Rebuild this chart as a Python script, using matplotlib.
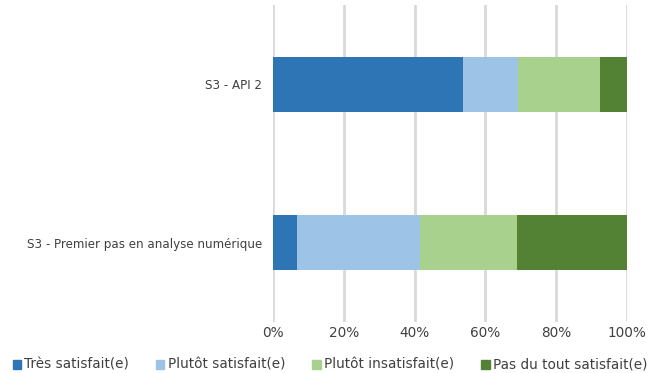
import matplotlib
matplotlib.use("Agg")
import matplotlib.pyplot as plt
from matplotlib.patches import Rectangle
from matplotlib.ticker import PercentFormatter

categories = ["S3 - API 2", "S3 - Premier pas en analyse numérique"]
series_names = ["Très satisfait(e)", "Plutôt satisfait(e)", "Plutôt insatisfait(e)", "Pas du tout satisfait(e)"]
tres = [53.8, 6.9]
plutot_sat = [15.4, 34.5]
plutot_insat = [23.1, 27.6]
pas_du_tout = [7.7, 31.0]
colors = ["#2e75b6", "#9dc3e6", "#a9d18e", "#548235"]
xticks = [0, 20, 40, 60, 80, 100]

plt.rcParams['font.family'] = ['DejaVu Sans']
fig = plt.figure(figsize=(6.54, 3.73), dpi=100)
ax = fig.add_axes([273/654, 1-322/373, 354/654, 317/373])

ypos = list(range(len(categories)))
left = [0]*len(categories)
for name, vals, c in zip(series_names, [tres, plutot_sat, plutot_insat, pas_du_tout], colors):
    ax.barh(ypos, vals, left=left, height=0.35, color=c, label=name, zorder=3)
    left = [l+v for l, v in zip(left, vals)]

ax.set_yticks(ypos)
ax.set_yticklabels(categories, fontsize=8.6)
ax.set_ylim(1.5, -0.5)
ax.set_xlim(0, 100)
ax.set_xticks(xticks)
ax.xaxis.set_major_formatter(PercentFormatter(decimals=0))
ax.tick_params(axis='x', labelsize=9.8, length=0, pad=3, colors='#404040')
ax.tick_params(axis='y', length=0, pad=8, colors='#404040')
ax.grid(axis='x', color='#d9d9d9', linewidth=2, zorder=0)
for s in ax.spines.values():
    s.set_visible(False)

handles = [Rectangle((0, 0), 1, 1, color=c) for c in colors]
fig.legend(handles, series_names, loc='center', bbox_to_anchor=(0.5 + 3/654, 1-365/373),
           ncol=4, frameon=False, fontsize=9.8, handlelength=0.6, handleheight=0.6,
           handletextpad=0.25, columnspacing=2.0, labelcolor='#404040',
           borderpad=0, borderaxespad=0)

fig.savefig("out.png", dpi=100)
